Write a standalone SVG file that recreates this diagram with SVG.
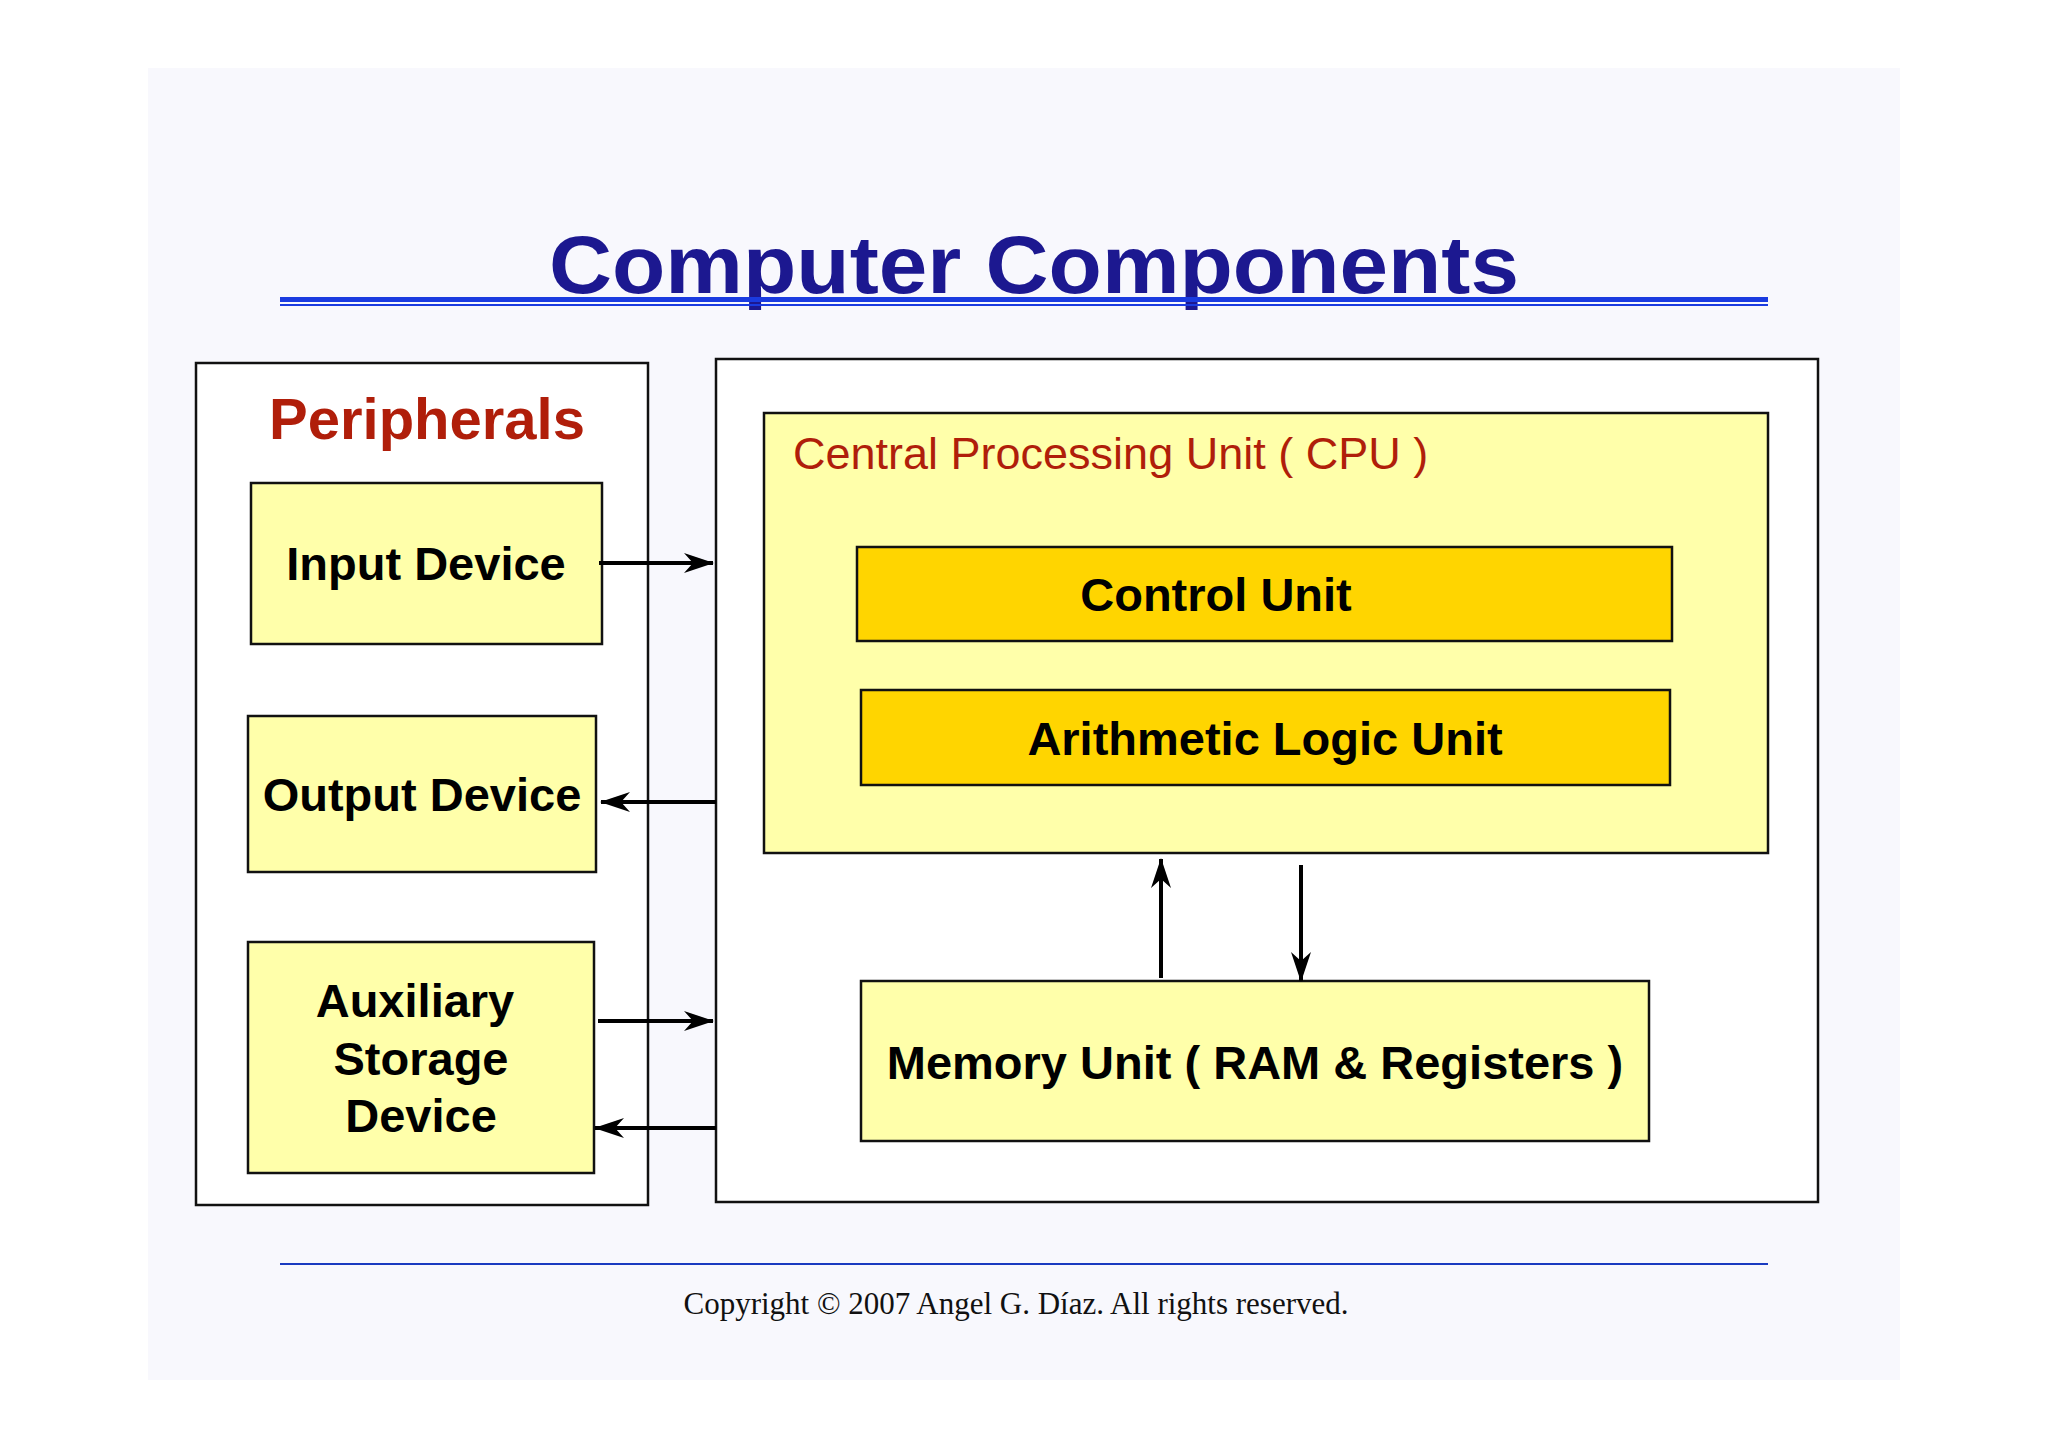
<svg xmlns="http://www.w3.org/2000/svg" width="2048" height="1448" viewBox="0 0 2048 1448">
<style>
.box{stroke:#111;stroke-width:2.5}
.pale{fill:#ffffaa}
.gold{fill:#ffd500}
.lbl{font-family:"Liberation Sans",Arial,sans-serif;font-weight:bold;font-size:47px;fill:#000;text-anchor:middle;dominant-baseline:central}
.con{stroke:#000;stroke-width:4;fill:none;marker-end:url(#ah)}
</style>
<defs>
<marker id="ah" viewBox="0 0 30 20" refX="29" refY="10" markerWidth="30" markerHeight="20" markerUnits="userSpaceOnUse" orient="auto">
<path d="M0,0 L30,10 L0,20 L9,10 Z" fill="#000"/>
</marker>
</defs>
<rect width="2048" height="1448" fill="#fff"/>
<rect x="148" y="68" width="1752" height="1312" fill="#f8f8fd"/>
<text x="1034" y="293" font-family="Liberation Sans,Arial,sans-serif" font-weight="900" font-size="82" fill="#1c1890" text-anchor="middle" textLength="970" lengthAdjust="spacingAndGlyphs">Computer Components</text>
<rect x="280" y="297" width="1488" height="5" fill="#1a3be0"/>
<rect x="280" y="304" width="1488" height="2" fill="#1a3be0"/>
<g id="peripherals">
<rect x="196" y="363" width="452" height="842" fill="#fff" class="box"/>
<text x="427" y="418" font-family="Liberation Sans,Arial,sans-serif" font-weight="bold" font-size="58" fill="#b01e0a" text-anchor="middle" dominant-baseline="central">Peripherals</text>
</g>
<g id="input"><rect x="251" y="483" width="351" height="161" class="box pale"/><text x="426" y="563" class="lbl">Input Device</text></g>
<g id="output"><rect x="248" y="716" width="348" height="156" class="box pale"/><text x="422" y="794" class="lbl">Output Device</text></g>
<g id="aux"><rect x="248" y="942" width="346" height="231" class="box pale"/>
<text x="415" y="1000" class="lbl">Auxiliary</text><text x="421" y="1058" class="lbl">Storage</text><text x="421" y="1115" class="lbl">Device</text></g>
<g id="main"><rect x="716" y="359" width="1102" height="843" fill="#fff" class="box"/></g>
<g id="cpu"><rect x="764" y="413" width="1004" height="440" class="box pale"/>
<text x="793" y="453" font-family="Liberation Sans,Arial,sans-serif" font-size="45" fill="#b01e0a" dominant-baseline="central">Central Processing Unit ( CPU )</text></g>
<g id="control"><rect x="857" y="547" width="815" height="94" class="box gold"/><text x="1216" y="594" class="lbl">Control Unit</text></g>
<g id="alu"><rect x="861" y="690" width="809" height="95" class="box gold"/><text x="1265" y="738" class="lbl">Arithmetic Logic Unit</text></g>
<g id="memory"><rect x="861" y="981" width="788" height="160" class="box pale"/><text x="1255" y="1062" class="lbl">Memory Unit ( RAM &amp; Registers )</text></g>
<g id="connectors">
<line x1="599" y1="563" x2="713" y2="563" class="con"/>
<line x1="716" y1="802" x2="601" y2="802" class="con"/>
<line x1="598" y1="1021" x2="713" y2="1021" class="con"/>
<line x1="716" y1="1128" x2="595" y2="1128" class="con"/>
<line x1="1161" y1="978" x2="1161" y2="859" class="con"/>
<line x1="1301" y1="865" x2="1301" y2="981" class="con"/>
</g>
<rect x="280" y="1263" width="1488" height="2" fill="#1a3bc0"/>
<text x="1016" y="1314" font-family="Liberation Serif,'Times New Roman',serif" font-size="31" fill="#111" text-anchor="middle">Copyright © 2007 Angel G. Díaz. All rights reserved.</text>
</svg>
